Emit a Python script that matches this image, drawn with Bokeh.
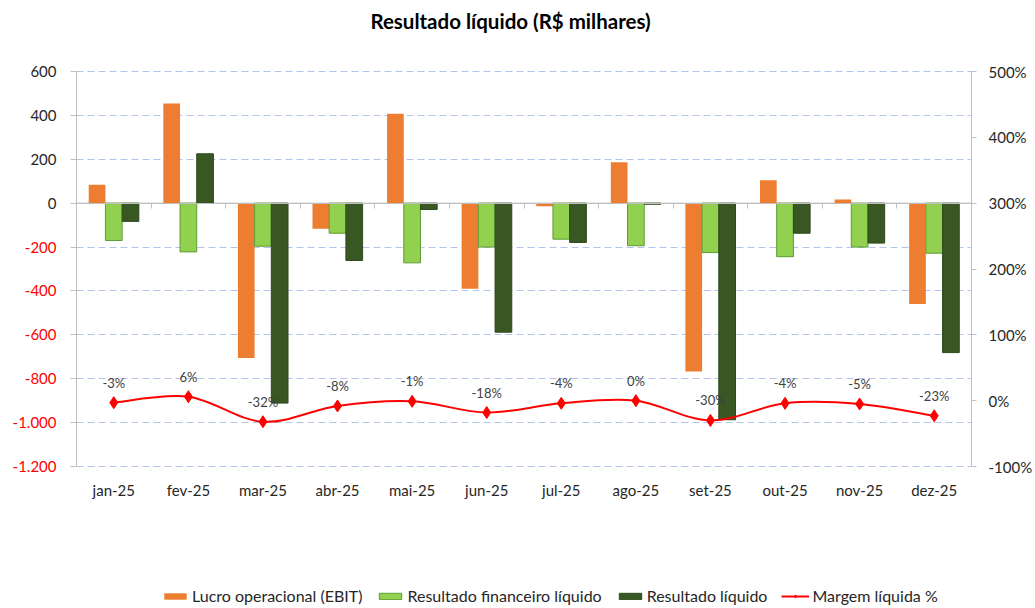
import numpy as np
from bokeh.plotting import figure
from bokeh.layouts import row, column
from bokeh.models import (Range1d, LinearAxis, FixedTicker, ColumnDataSource, Legend,
                          LegendItem, Span)
from bokeh.core.properties import value
from bokeh.embed import file_html
from bokeh.resources import INLINE

titulo = "Resultado líquido (R$ milhares)"
meses = ["jan-25", "fev-25", "mar-25", "abr-25", "mai-25", "jun-25",
         "jul-25", "ago-25", "set-25", "out-25", "nov-25", "dez-25"]
ebit = [84, 454, -706, -117, 407, -390, -14, 187, -767, 105, 17, -459]
fin = [-170, -222, -196, -137, -272, -200, -164, -194, -225, -244, -200, -228]
liq = [-83, 225, -911, -261, -29, -588, -179, -5, -987, -137, -182, -681]
margem = [-3, 6, -32, -8, -1, -18, -4, 0, -30, -4, -5, -23]
series_names = ["Lucro operacional (EBIT)", "Resultado financeiro líquido",
                "Resultado líquido", "Margem líquida %"]
y_ticks = [600, 400, 200, 0, -200, -400, -600, -800, -1000, -1200]
y_tick_labels = ["600", "400", "200", "0", "-200", "-400", "-600", "-800", "-1.000", "-1.200"]
pct_ticks = [500, 400, 300, 200, 100, 0, -100]
pct_tick_labels = ["500%", "400%", "300%", "200%", "100%", "0%", "-100%"]

FONT = "Lato"
C_EBIT, C_FIN, C_LIQ, C_LINE = "#ED7D31", "#92D050", "#385723", "#FF0000"
L_FIN, L_LIQ = "#5E9B33", "#2E4A1D"
W, H = 1035, 608
TITLE_H = 40
LEG_H = 40
LEFT_W = 60
FRAME_TOP, FRAME_BOTTOM = 71, 466          # absolute pixel rows of the axis extent
PAD = 12                                   # extra frame room so edge labels are not clipped
Y_MIN, Y_MAX = -1200, 600
P_MIN, P_MAX = -100, 500
n = len(meses)
xs = np.arange(n) + 0.5
bw = 0.224

ppu = (FRAME_BOTTOM - FRAME_TOP) / (Y_MAX - Y_MIN)
ppu2 = (FRAME_BOTTOM - FRAME_TOP) / (P_MAX - P_MIN)


def strip(w, h, xr, yr):
    f = figure(width=w, height=h, x_range=xr, y_range=yr, output_backend="svg",
               toolbar_location=None, min_border_left=0, min_border_right=0,
               min_border_top=0, min_border_bottom=0, x_axis_location=None, y_axis_location=None)
    f.grid.visible = False
    f.outline_line_color = None
    return f


# ---------- title strip ----------
tf = strip(W, TITLE_H, Range1d(0, W), Range1d(0, TITLE_H))
tf.text(x=[510], y=[TITLE_H / 2], text=[titulo], text_align="center", text_baseline="middle",
        text_font=value(FONT), text_font_size="20.5px", text_font_style="bold", text_color="#000000")

# ---------- main plot ----------
MH = H - TITLE_H - LEG_H
yr = Range1d(Y_MIN - PAD / ppu, Y_MAX + PAD / ppu)
p = figure(width=W - LEFT_W, height=MH, x_range=Range1d(0, n), y_range=yr,
           output_backend="svg", toolbar_location=None,
           min_border_left=76 - LEFT_W, min_border_right=64,
           min_border_top=FRAME_TOP - PAD - TITLE_H,
           min_border_bottom=H - LEG_H - FRAME_BOTTOM - PAD)
p.extra_y_ranges = {"pct": Range1d(P_MIN - PAD / ppu2, P_MAX + PAD / ppu2)}
p.outline_line_color = None

p.xgrid.visible = False
p.ygrid.ticker = FixedTicker(ticks=[t for t in y_ticks if t != 0])
p.ygrid.grid_line_color = "#B4C4EE"
p.ygrid.grid_line_dash = "7 4"
p.ygrid.grid_line_width = 1

p.add_layout(Span(location=0, dimension="width", line_color="#BFBFBF", line_width=1, level="underlay"))

# left axis: ticks only (labels drawn in the left strip, negatives in red)
ya = p.yaxis[0]
ya.ticker = FixedTicker(ticks=y_ticks)
ya.bounds = (Y_MIN, Y_MAX)
ya.major_label_overrides = {t: "" for t in y_ticks}
ya.major_label_standoff = 0
ya.axis_line_color = "#BFBFBF"
ya.major_tick_line_color = "#BFBFBF"
ya.major_tick_out = 6
ya.major_tick_in = 0
ya.minor_tick_line_color = None

# right axis
ra = LinearAxis(y_range_name="pct", ticker=FixedTicker(ticks=pct_ticks), bounds=(P_MIN, P_MAX),
                major_label_overrides={t: l for t, l in zip(pct_ticks, pct_tick_labels)})
ra.axis_line_color = "#BFBFBF"
ra.major_tick_line_color = "#BFBFBF"
ra.major_tick_out = 5
ra.major_tick_in = 0
ra.minor_tick_line_color = None
ra.major_label_standoff = 12
ra.major_label_text_font = FONT
ra.major_label_text_font_size = "15px"
ra.major_label_text_color = "#262626"
p.add_layout(ra, "right")

# bottom axis with category labels
xa = p.xaxis[0]
xa.ticker = FixedTicker(ticks=list(xs))
xa.major_label_overrides = {float(x): m for x, m in zip(xs, meses)}
xa.axis_line_color = None
xa.major_tick_line_color = None
xa.major_tick_out = 0
xa.minor_tick_line_color = None
xa.major_label_standoff = 2
xa.major_label_text_font = FONT
xa.major_label_text_font_size = "15px"
xa.major_label_text_color = "#262626"

# category axis line crossing at zero with tick marks at category boundaries
za = LinearAxis(fixed_location=0, ticker=FixedTicker(ticks=list(range(n + 1))))
za.major_label_overrides = {i: "" for i in range(n + 1)}
za.major_label_text_font_size = "1px"
za.major_label_standoff = 0
za.axis_line_color = "#BFBFBF"
za.major_tick_line_color = "#BFBFBF"
za.major_tick_out = 5
za.major_tick_in = 0
za.minor_tick_line_color = None
p.add_layout(za, "below")

# bars
p.vbar(x=xs - bw, top=ebit, bottom=0, width=bw, fill_color=C_EBIT, line_color=None)
p.vbar(x=xs, top=fin, bottom=0, width=bw, fill_color=C_FIN, line_color=L_FIN, line_width=1)
p.vbar(x=xs + bw, top=liq, bottom=0, width=bw, fill_color=C_LIQ, line_color=L_LIQ, line_width=1)

# smoothed margin line
P = np.array(margem, dtype=float)
X = xs
idx = np.arange(n - 1)
prev = np.maximum(idx - 1, 0)
nxt2 = np.minimum(idx + 2, n - 1)
cx0 = X[idx] + (X[idx + 1] - X[prev]) / 6
cy0 = P[idx] + (P[idx + 1] - P[prev]) / 6
cx1 = X[idx + 1] - (X[nxt2] - X[idx]) / 6
cy1 = P[idx + 1] - (P[nxt2] - P[idx]) / 6
p.bezier(x0=X[idx], y0=P[idx], x1=X[idx + 1], y1=P[idx + 1], cx0=cx0, cy0=cy0, cx1=cx1, cy1=cy1,
         line_color=C_LINE, line_width=2, y_range_name="pct")
p.scatter(x=X, y=P, marker="diamond", size=12, fill_color=C_LINE, line_color=C_LINE,
          y_range_name="pct")
p.text(x=X, y=P, text=[f"{m}%" for m in margem], y_range_name="pct", y_offset=-20,
       text_align="center", text_baseline="middle", text_font=value(FONT),
       text_font_size="13px", text_color="#404040")

# ---------- left strip with the primary-axis labels (frame aligned with the plot) ----------
lf = strip(LEFT_W, MH, Range1d(0, LEFT_W), yr)
lbl_src = ColumnDataSource(dict(
    x=[LEFT_W - 4] * len(y_ticks), y=y_ticks, text=y_tick_labels,
    color=["#FF0000" if t < 0 else "#262626" for t in y_ticks]))
lf.text(x="x", y="y", text="text", source=lbl_src, text_color="color", text_align="right",
        text_baseline="middle", text_font=value(FONT), text_font_size="15px")

# ---------- legend strip (swatches styled like the series, no visible data) ----------
lg = strip(W, LEG_H, Range1d(0, 1), Range1d(0, 1))
nan = [float("nan")]
s1 = lg.vbar(x=nan, top=nan, width=0.1, fill_color=C_EBIT, line_color=None)
s2 = lg.vbar(x=nan, top=nan, width=0.1, fill_color=C_FIN, line_color=L_FIN)
s3 = lg.vbar(x=nan, top=nan, width=0.1, fill_color=C_LIQ, line_color=L_LIQ)
s4 = lg.line(x=nan, y=nan, line_color=C_LINE, line_width=2)
s5 = lg.scatter(x=nan, y=nan, marker="diamond", size=9, fill_color=C_LINE, line_color=C_LINE)
legend = Legend(items=[
    LegendItem(label=series_names[0], renderers=[s1]),
    LegendItem(label=series_names[1], renderers=[s2]),
    LegendItem(label=series_names[2], renderers=[s3]),
    LegendItem(label=series_names[3], renderers=[s4, s5]),
], orientation="horizontal", location=(161, 3))
legend.label_text_font = FONT
legend.label_text_font_size = "16px"
legend.label_text_color = "#262626"
legend.label_height = 14
legend.glyph_width = 28
legend.glyph_height = 8
legend.label_standoff = 3
legend.spacing = 14
legend.padding = 0
legend.margin = 0
legend.border_line_color = None
legend.background_fill_alpha = 0
lg.add_layout(legend, "center")

layout = column(tf, row(lf, p, spacing=0), lg, spacing=0)
open("out.html", "w").write(file_html(layout, INLINE))
